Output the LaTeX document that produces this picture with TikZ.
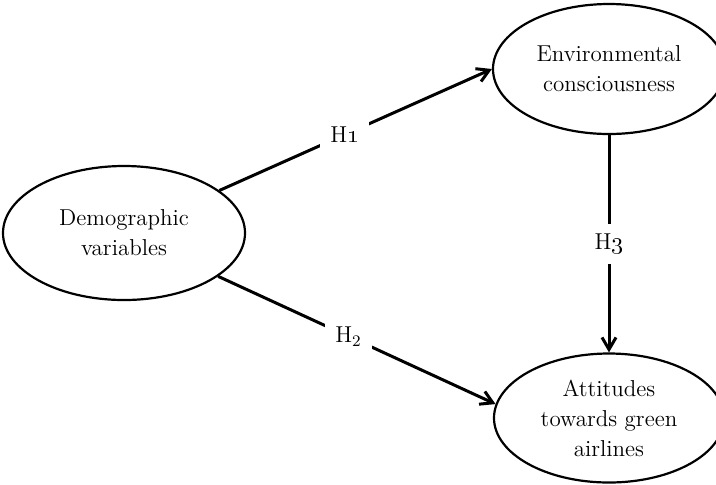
\documentclass[tikz,border=0pt]{standalone}
\usetikzlibrary{shapes.geometric,arrows.meta}
\begin{document}
\begin{tikzpicture}[x=0.5pt, y=-0.5pt,
    var/.style={draw, ellipse, line width=1.1pt, inner sep=0pt, align=center,
        font=\fontsize{11.5}{15}\selectfont},
    link/.style={-{Straight Barb[length=6pt,width=7pt]}, line width=1.5pt},
    hyp/.style={fill=white, inner sep=5pt, font=\fontsize{11.5}{15}\selectfont}]
    \clip (0, 0) rectangle (716, 484);
    \path (124, 233) node [var, minimum width=121pt, minimum height=67pt] (demo) {Demographic\\variables};
    \path (609,  69) node [var, minimum width=116pt, minimum height=65pt] (env) {Environmental\\consciousness};
    \path (609, 418) node [var, minimum width=115pt, minimum height=64.5pt] (att) {Attitudes\\towards green\\airlines};
    \draw [link] (demo) -- (env.west) node [hyp, pos=0.46] {H\oldstylenums{1}};
    \draw [link] (demo) -- (att.173) node [hyp, pos=0.47] {H\textsubscript{2}};
    \draw [link] (env) -- (att) node [hyp, pos=0.5] {H\oldstylenums{3}};
\end{tikzpicture}
\end{document}
